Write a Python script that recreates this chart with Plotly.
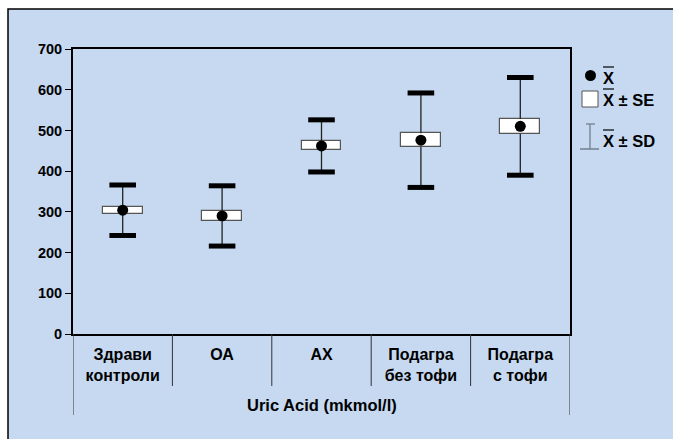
import plotly.graph_objects as go

# Uric acid by group: mean, standard error, standard deviation (mkmol/l)
categories = ["Здрави<br>контроли", "ОА", "АХ", "Подагра<br>без тофи", "Подагра<br>с тофи"]
mean = [304, 290, 462, 476, 510]
se = [9, 13, 11, 17, 18]
sd = [62, 74, 64, 116, 120]
y_ticks = [0, 100, 200, 300, 400, 500, 600, 700]

BG = "#C6D9F0"
FONT = "Liberation Sans, Arial, sans-serif"

x = [i + 0.5 for i in range(len(categories))]

fig = go.Figure()

# SE boxes
fig.add_trace(go.Bar(
    x=x, y=[2 * s for s in se], base=[m - s for m, s in zip(mean, se)],
    width=0.4, marker=dict(color="white", line=dict(color="#555555", width=1.2)),
    hoverinfo="skip", showlegend=False,
))

# SD whisker stems, outside the SE box
sx, sy = [], []
for xi, m, s, d in zip(x, mean, se, sd):
    sx += [xi, xi, None, xi, xi, None]
    sy += [m + s, m + d, None, m - s, m - d, None]
fig.add_trace(go.Scatter(
    x=sx, y=sy, mode="lines", line=dict(color="#222222", width=1.3),
    hoverinfo="skip", showlegend=False,
))

# SD caps
fig.add_trace(go.Scatter(
    x=x + x, y=[m + d for m, d in zip(mean, sd)] + [m - d for m, d in zip(mean, sd)],
    mode="markers",
    marker=dict(symbol="line-ew", size=19, line=dict(color="black", width=5)),
    hoverinfo="skip", showlegend=False,
))

# Means
fig.add_trace(go.Scatter(
    x=x, y=mean, mode="markers",
    marker=dict(symbol="circle", size=11, color="black"),
    showlegend=False,
))

# pixel -> paper helpers for the plot frame (plot area 73..570 x 49..334)
L, R, T, B = 73, 570, 49, 334
def px(v):
    return (v - L) / (R - L)
def py(v):
    return (B - v) / (B - T)

shapes = [
    # chart panel
    dict(type="rect", xref="paper", yref="paper", x0=px(8), x1=px(690), y0=py(460), y1=py(9),
         fillcolor=BG, line=dict(color="black", width=1.5), layer="below"),
]
# category dividers under the axis
for i in range(1, len(categories)):
    shapes.append(dict(type="line", xref="x", yref="paper", x0=i, x1=i, y0=0, y1=py(386),
                       line=dict(color="#333333", width=1)))
for i in (0, len(categories)):
    shapes.append(dict(type="line", xref="x", yref="paper", x0=i, x1=i, y0=0, y1=py(415),
                       line=dict(color="#333333", width=1)))

# legend key
KEY = "#6F7F8F"
shapes += [
    dict(type="circle", xref="paper", yref="paper", x0=px(585), x1=px(596), y0=py(81), y1=py(70),
         fillcolor="black", line=dict(color="black", width=0)),
    dict(type="rect", xref="paper", yref="paper", x0=px(582), x1=px(598), y0=py(107), y1=py(91),
         fillcolor="white", line=dict(color="#555555", width=1)),
    dict(type="line", xref="paper", yref="paper", x0=px(590), x1=px(590), y0=py(149), y1=py(124),
         line=dict(color=KEY, width=1.3)),
    dict(type="line", xref="paper", yref="paper", x0=px(586), x1=px(595), y0=py(124), y1=py(124),
         line=dict(color=KEY, width=1.3)),
    dict(type="line", xref="paper", yref="paper", x0=px(580), x1=px(599), y0=py(149), y1=py(149),
         line=dict(color=KEY, width=1.5)),
]

legend_rows = [("X", 78), ("X ± SE", 100), ("X ± SD", 141)]
annotations = [
    dict(text="<b>Uric Acid (mkmol/l)</b>", xref="x", yref="paper", x=2.5, y=py(405),
         yanchor="middle", showarrow=False, font=dict(family=FONT, size=16.5, color="black")),
]
for label, yc in legend_rows:
    annotations.append(dict(text=f"<b>{label}</b>", xref="paper", yref="paper",
                            x=px(601), y=py(yc), xanchor="left", yanchor="middle",
                            showarrow=False, font=dict(family=FONT, size=16.5, color="black")))
    # bar over the X (mean symbol)
    shapes.append(dict(type="line", xref="paper", yref="paper", x0=px(603), x1=px(614),
                       y0=py(yc - 11), y1=py(yc - 11), line=dict(color="black", width=1.2)))

fig.update_layout(
    width=673, height=439,
    margin=dict(l=L, r=673 - R, t=T, b=439 - B),
    paper_bgcolor="white", plot_bgcolor=BG,
    font=dict(family=FONT, size=15, color="black"),
    shapes=shapes, annotations=annotations,
    bargap=0, showlegend=False,
)
fig.update_xaxes(
    range=[0, len(categories)], tickvals=x, ticktext=categories,
    tickfont=dict(family=FONT, size=16, color="black", weight="bold"),
    ticks="", ticklabelstandoff=5, showgrid=False, zeroline=False,
    showline=True, linecolor="black", linewidth=2, mirror=True,
)
fig.update_yaxes(
    range=[0, 700], tickvals=y_ticks,
    tickfont=dict(family=FONT, size=14.5, color="black", weight="bold"),
    ticks="outside", ticklen=6, tickcolor="black", tickwidth=1,
    showgrid=False, zeroline=False,
    showline=True, linecolor="black", linewidth=2, mirror=True,
)

fig.write_html("out.html")
